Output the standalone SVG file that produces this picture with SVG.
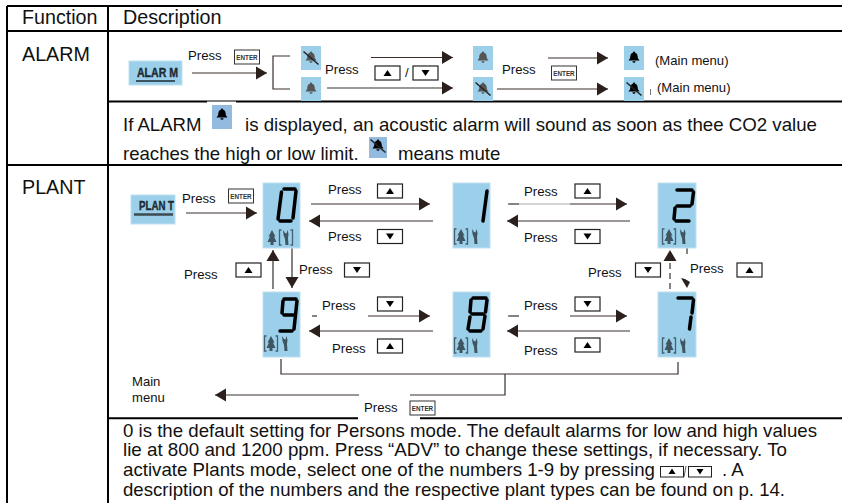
<svg xmlns="http://www.w3.org/2000/svg" width="842" height="503" viewBox="0 0 842 503">
<defs>
<marker id="ah" markerUnits="userSpaceOnUse" markerWidth="12" markerHeight="14" refX="11" refY="7" orient="auto"><path d="M0,0.500L11,7L0,13.500Z" fill="#2b201c"/></marker>
<g id="bell"><path d="M0,-6.500a1.200,1.200 0 0 1 1.200,1.200c2.300,.7 2.500,3 2.700,5.500l1.600,2.300h-11l1.600,-2.300c.2,-2.500 .4,-4.800 2.700,-5.500a1.200,1.200 0 0 1 1.200,-1.200zM-1.600,3.200h3.200a1.600,1.600 0 0 1 -3.200,0z"/></g>
<g id="mute"><use href="#bell"/><path d="M-7.500,-6.500L7.500,6.500" stroke="#222" stroke-width="1.500"/></g>
<g id="upk"><rect x="-12.500" y="-7" width="25" height="14" fill="#fff" stroke="#222" stroke-width="1.200"/><path d="M-4,3L0,-3L4,3Z" fill="#000"/></g>
<g id="dnk"><rect x="-12.500" y="-7" width="25" height="14" fill="#fff" stroke="#222" stroke-width="1.200"/><path d="M-4,-3L0,3L4,-3Z" fill="#000"/></g>
<g id="ent"><rect x="-12.500" y="-7" width="25" height="14" fill="#fff" stroke="#333" stroke-width="1"/><text x="0" y="2.500" text-anchor="middle" class="ek">ENTER</text></g>
<path id="tree" d="M0,-7L3.500,-.5H2L4.500,5H1.500V8H-1.500V5H-4.500L-2,-.5H-3.500Z" fill="#3f5561"/>
<path id="man" d="M-3,-7L-1,-4L.5,-3.500L1.500,-7L2.500,-3L2,1L2.500,8H-.5L-1,2L-2.500,-2Z" fill="#3f5561"/>
<path id="brk" d="M-4.500,-7H-6.500V8H-4.500M4.500,-7H6.500V8H4.500" fill="none" stroke="#46606e" stroke-width="1.300"/>
<g id="ppt"><use href="#tree" x="8" y="0"/><use href="#brk" x="8" y="0"/><use href="#man" x="22" y="0"/></g>
</defs>
<style>
text{font-family:"Liberation Sans",Arial,sans-serif;fill:#111}
.h{font-size:19.700px}
.t{font-size:18.600px}
.p{font-size:13.200px}
.m{font-size:13.100px}
.ek{font-size:6.300px;font-weight:bold;fill:#333}
.b{fill:none;stroke:#000;stroke-width:2}
.c{fill:none;stroke:#3a2f2b;stroke-width:1.200}
.a{marker-end:url(#ah)}
.lcd{fill:#9bcfea;stroke:#bfe0f0;stroke-width:1}
.seg{fill:none;stroke:#000;stroke-width:3.500;stroke-linejoin:round;stroke-linecap:round}
.icn{fill:#9bcfea}
.logo{font-size:12.500px;font-weight:bold;fill:#1d2a33;stroke:#1d2a33;stroke-width:.4}
</style>
<rect width="842" height="503" fill="#fff"/>
<g id="table">
<path class="b" d="M7,6H842M7,31H842M108,101.500H842M7,165H842M108,418.300H358M420,418.300H842M7,6V503M108,6V503"/>
<rect x="207" y="101.500" width="29" height="2" fill="#fff"/>
<text class="h" x="22" y="24">Function</text>
<text class="h" x="123" y="24">Description</text>
<text class="h" x="22" y="61">ALARM</text>
<text class="h" x="22" y="194">PLANT</text>
</g>
<g id="connectors">
<path class="c a" d="M192,73H267"/>
<path class="c" d="M290,56H273V89H290"/>
<path class="c a" d="M371,57.500H453"/>
<path class="c a" d="M327,88H453"/>
<path class="c a" d="M548,58H608"/>
<path class="c a" d="M497,89H608"/>
<path class="c a" d="M186,213H257"/>
<path class="c a" d="M311,204H430"/>
<path class="c a" d="M433,221H309"/>
<path class="c" d="M508,204H519"/>
<path d="M519,204H570" stroke="#aaa" stroke-width="1" fill="none"/>
<path class="c a" d="M570,204H627"/>
<path class="c a" d="M630,221H507"/>
<path class="c a" d="M273,289V250"/>
<path class="c a" d="M292,248V288"/>
<path class="c a" d="M670,289V250" stroke-dasharray="6 4"/>
<path class="c" d="M687,248V254"/>
<path d="M681,278L685,279L690,282L687,288Z" fill="#2b201c"/>
<path class="c" d="M312,316H317"/>
<path class="c a" d="M368,316H430"/>
<path class="c a" d="M433,331H309"/>
<path class="c" d="M508,316H519"/>
<path class="c a" d="M570,316H627"/>
<path class="c a" d="M630,331H507"/>
<path class="c" d="M281,359V374H678V362"/>
<path class="c" d="M505,374V395H410"/>
<path class="c a" d="M359,395H215"/>
</g>
<g id="node-alarm-logo"><rect class="lcd" x="129" y="61" width="53" height="24"/><text class="logo" x="137" y="77" textLength="41" lengthAdjust="spacingAndGlyphs">ALAR M</text><path d="M136,81H175" stroke="#1d2a33" stroke-width="1.500"/></g>
<g id="node-alarm-icons">
<rect class="icn" x="301" y="46" width="20" height="24"/><use href="#mute" x="311" y="58" fill="#555"/>
<rect class="icn" x="301" y="77" width="20" height="24"/><use href="#bell" x="311" y="89" fill="#555"/>
<rect class="icn" x="473" y="46" width="20" height="24"/><use href="#bell" x="483" y="58" fill="#555"/>
<rect class="icn" x="473" y="77" width="20" height="24"/><use href="#mute" x="483" y="89" fill="#555"/>
<rect class="icn" x="624" y="46" width="20" height="24"/><use href="#bell" x="634" y="58" fill="#000"/>
<rect class="icn" x="624" y="77" width="20" height="24"/><use href="#mute" x="634" y="89" fill="#000"/>
</g>
<g id="alarm-labels">
<text class="p" x="188" y="60">Press</text><use href="#ent" x="247" y="57"/>
<text class="p" x="325" y="74">Press</text><use href="#upk" x="387.500" y="73"/><text class="p" x="405" y="77">/</text><use href="#dnk" x="425.500" y="73"/>
<text class="p" x="502" y="74">Press</text><use href="#ent" x="564" y="73"/>
<text class="m" x="655" y="65">(Main menu)</text>
<path d="M650.500,89V95" stroke="#555" stroke-width=".8"/>
<text class="m" x="657" y="92">(Main menu)</text>
</g>
<g id="alarm-note">
<text class="t" x="123" y="131">If ALARM</text>
<text class="t" x="245" y="131" textLength="572" lengthAdjust="spacingAndGlyphs">is displayed, an acoustic alarm will sound as soon as thee CO2 value</text>
<text class="t" x="123" y="160">reaches the high or low limit.</text>
<text class="t" x="398" y="160">means mute</text>
<rect x="212" y="105" width="20" height="24" fill="#93badf"/><use href="#bell" x="222" y="115" fill="#000"/>
<rect x="369" y="137" width="18" height="21" fill="#93badf"/><use href="#mute" x="378" y="146" fill="#000"/>
</g>
<g id="node-plant-logo"><rect class="lcd" x="131" y="195" width="44" height="29"/><text class="logo" x="139" y="210" textLength="35" lengthAdjust="spacingAndGlyphs">PLAN T</text><path d="M134,214.500H173" stroke="#3d4a52" stroke-width="2.500"/></g>
<g id="plant-labels">
<text class="p" x="182" y="203">Press</text><use href="#ent" x="241" y="196"/>
<text class="p" x="328" y="194">Press</text><use href="#upk" x="390" y="191"/>
<text class="p" x="328" y="241">Press</text><use href="#dnk" x="390" y="236.500"/>
<text class="p" x="524" y="196">Press</text><use href="#upk" x="587.500" y="191"/>
<text class="p" x="524" y="242">Press</text><use href="#dnk" x="587.500" y="236.500"/>
<text class="p" x="184" y="279">Press</text><use href="#upk" x="248.500" y="270"/>
<text class="p" x="299" y="274">Press</text><use href="#dnk" x="357" y="270"/>
<text class="p" x="588" y="277">Press</text><use href="#dnk" x="648" y="270"/>
<text class="p" x="690" y="273">Press</text><use href="#upk" x="749.500" y="270"/>
<text class="p" x="322" y="310">Press</text><use href="#dnk" x="390" y="304"/>
<text class="p" x="332" y="353">Press</text><use href="#upk" x="390" y="346"/>
<text class="p" x="524" y="310">Press</text><use href="#dnk" x="587.500" y="304"/>
<text class="p" x="524" y="355">Press</text><use href="#upk" x="587.500" y="345"/>
<text class="m" x="132" y="386">Main</text><text class="m" x="132" y="402">menu</text>
<text class="p" x="364" y="412">Press</text><use href="#ent" x="422.500" y="408"/>
</g>
<g id="node-0"><rect class="lcd" x="263" y="183" width="37" height="65"/><path class="seg" d="M284,189H295M296,191L293,218M291,221H280M278,219L281.500,192"/><use href="#tree" x="272" y="237"/><use href="#brk" x="286" y="237"/><use href="#man" x="286" y="237"/></g>
<g id="node-1"><rect class="lcd" x="453" y="183" width="37" height="65"/><path class="seg" d="M487,191L483,221"/><use href="#ppt" x="453" y="236"/></g>
<g id="node-2"><rect class="lcd" x="658" y="183" width="38" height="65"/><path class="seg" d="M677,190H692M693.500,192L692,204M690,206H677M675,208L674,219M676,221H689"/><use href="#ppt" x="661" y="236"/></g>
<g id="node-9"><rect class="lcd" x="263" y="292" width="37" height="65"/><path class="seg" d="M284,299H296M283,301L282,313M284,315H295M297,301L294,329M292,331H280"/><use href="#ppt" x="263" y="343"/></g>
<g id="node-8"><rect class="lcd" x="453" y="292" width="37" height="65"/><path class="seg" d="M473,298H486M487,300L485.500,312M485,316L483,329M481,331H470M468,329L470,317M470,312L471,300M472,314H483"/><use href="#ppt" x="453" y="345"/></g>
<g id="node-7"><rect class="lcd" x="658" y="292" width="38" height="65"/><path class="seg" d="M678,298H692M693.500,300L692,313M691,317L689.500,329"/><use href="#ppt" x="661" y="345"/></g>
<g id="plant-note">
<text class="t" x="123" y="437" textLength="694" lengthAdjust="spacingAndGlyphs">0 is the default setting for Persons mode. The default alarms for low and high values</text>
<text class="t" x="123" y="456" textLength="664" lengthAdjust="spacingAndGlyphs">lie at 800 and 1200 ppm. Press “ADV” to change these settings, if necessary. To</text>
<text class="t" x="123" y="476" textLength="532" lengthAdjust="spacingAndGlyphs">activate Plants mode, select one of the numbers 1-9 by pressing</text>
<rect x="660.500" y="466.500" width="23" height="10.500" fill="#fff" stroke="#222"/><path d="M668.500,474L672,468.500L675.500,474Z" fill="#000"/>
<path d="M686,466L684,477" stroke="#333" stroke-width=".8"/>
<rect x="688.500" y="466.500" width="23" height="10.500" fill="#fff" stroke="#222"/><path d="M696.500,469L700,474.500L703.500,469Z" fill="#000"/>
<text class="t" x="722" y="476">. A</text>
<text class="t" x="123" y="496" textLength="662" lengthAdjust="spacingAndGlyphs">description of the numbers and the respective plant types can be found on p. 14.</text>
</g>
</svg>
